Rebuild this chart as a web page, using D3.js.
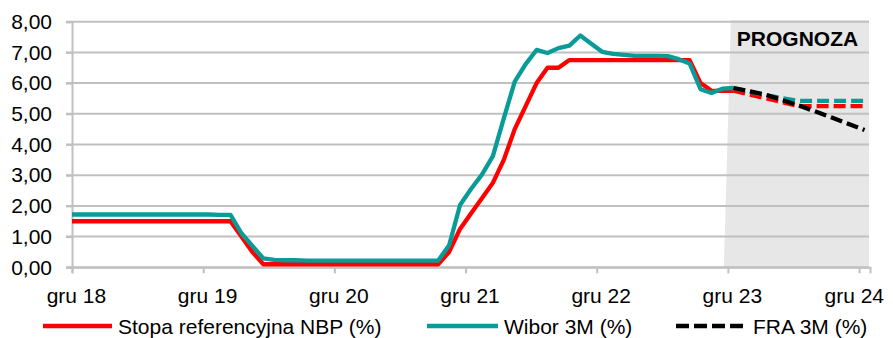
<!DOCTYPE html>
<html>
<head>
<meta charset="utf-8">
<script src="https://cdn.jsdelivr.net/npm/d3@7"></script>
<style>
  html, body { margin: 0; padding: 0; background: #fff; }
  svg { display: block; font-family: "Liberation Sans", Arial, sans-serif; }
</style>
</head>
<body>
<svg id="chart" width="893" height="338"></svg>
<script>
// ---------- DATA ----------
// Historical monthly data (end of month), Nov 2018 .. Dec 2023
const histMonths = [
  "2018-11","2018-12",
  "2019-01","2019-02","2019-03","2019-04","2019-05","2019-06","2019-07","2019-08","2019-09","2019-10","2019-11","2019-12",
  "2020-01","2020-02","2020-03","2020-04","2020-05","2020-06","2020-07","2020-08","2020-09","2020-10","2020-11","2020-12",
  "2021-01","2021-02","2021-03","2021-04","2021-05","2021-06","2021-07","2021-08","2021-09","2021-10","2021-11","2021-12",
  "2022-01","2022-02","2022-03","2022-04","2022-05","2022-06","2022-07","2022-08","2022-09","2022-10","2022-11","2022-12",
  "2023-01","2023-02","2023-03","2023-04","2023-05","2023-06","2023-07","2023-08","2023-09","2023-10","2023-11","2023-12"
];
const nbpRate = [
  1.50,1.50,
  1.50,1.50,1.50,1.50,1.50,1.50,1.50,1.50,1.50,1.50,1.50,1.50,
  1.50,1.50,1.00,0.50,0.10,0.10,0.10,0.10,0.10,0.10,0.10,0.10,
  0.10,0.10,0.10,0.10,0.10,0.10,0.10,0.10,0.10,0.50,1.25,1.75,
  2.25,2.75,3.50,4.50,5.25,6.00,6.50,6.50,6.75,6.75,6.75,6.75,
  6.75,6.75,6.75,6.75,6.75,6.75,6.75,6.75,6.00,5.75,5.75,5.75
];
const wibor3m = [
  1.72,1.72,
  1.72,1.72,1.72,1.72,1.72,1.72,1.72,1.72,1.72,1.72,1.72,1.72,
  1.71,1.71,1.11,0.70,0.29,0.24,0.23,0.23,0.22,0.22,0.22,0.22,
  0.22,0.22,0.22,0.22,0.22,0.22,0.22,0.22,0.22,0.72,2.03,2.55,
  3.02,3.62,4.85,6.05,6.62,7.08,6.98,7.14,7.22,7.55,7.28,7.02,
  6.95,6.92,6.89,6.89,6.89,6.88,6.78,6.64,5.80,5.68,5.82,5.84
];
// Forecast (quarterly), Dec 2023 .. Dec 2024
const fcMonths = ["2023-12","2024-03","2024-06","2024-09","2024-12"];
const nbpForecast   = [5.75, 5.50, 5.25, 5.25, 5.25];
const wiborForecast = [5.84, 5.60, 5.42, 5.42, 5.42];
const fra3m         = [5.84, 5.62, 5.27, 4.88, 4.47];

const xTickMonths = ["2018-12","2019-12","2020-12","2021-12","2022-12","2023-12","2024-12"];
const xTickLabels = ["gru 18","gru 19","gru 20","gru 21","gru 22","gru 23","gru 24"];
const yTicks = [0,1,2,3,4,5,6,7,8];
const forecastStart = "2023-12";
const forecastLabel = "PROGNOZA";
const legendLabels = ["Stopa referencyjna NBP (%)", "Wibor 3M (%)", "FRA 3M (%)"];

// ---------- LAYOUT ----------
const L = 72, R = 870, T = 21.7, B = 267.3;
const colRed = "#ff0000", colTeal = "#089b98", colBlack = "#000000", colGrid = "#c0c0c0";
const FS = 21;

const mIdx = s => { const [y, m] = s.split("-").map(Number); return (y - 2018) * 12 + (m - 12); };

const x = d3.scaleLinear().domain([0, 73]).range([L, R]);
const y = d3.scaleLinear().domain([0, 8]).range([B, T]);
const xc = s => x(mIdx(s) + 0.5);

const svg = d3.select("#chart");

svg.append("defs").append("clipPath").attr("id", "plotclip")
  .append("rect").attr("x", L).attr("y", 0).attr("width", R - L).attr("height", 338);

// forecast shaded region
const fx = x(mIdx(forecastStart));
svg.append("path")
  .attr("d", `M${fx + 3},${T - 1.5} L${R - 1},${T - 1.5} L${R - 1},${B} L${fx - 4},${B} Z`)
  .attr("fill", "#e7e7e7");

// gridlines
svg.append("g").selectAll("line").data(yTicks).join("line")
  .attr("x1", L - 6).attr("x2", R - 1)
  .attr("y1", d => y(d)).attr("y2", d => y(d))
  .attr("stroke", colGrid).attr("stroke-width", 2);

// y axis
const fmt = d => d3.format(".2f")(d).replace(".", ",");
const yAxis = svg.append("g").attr("transform", `translate(${L},0)`)
  .call(d3.axisLeft(y).tickValues(yTicks).tickSize(6).tickPadding(14).tickFormat(fmt));
yAxis.select(".domain").attr("stroke", colGrid).attr("stroke-width", 2);
yAxis.selectAll(".tick line").attr("stroke", colGrid).attr("stroke-width", 2);
yAxis.selectAll(".tick text").attr("font-size", FS).attr("fill", "#000")
  .attr("font-family", "Liberation Sans, Arial, sans-serif");

// x axis
const xAxis = svg.append("g").attr("transform", `translate(0,${B})`)
  .call(d3.axisBottom(x).tickValues(xTickMonths.map(mIdx)).tickSize(6).tickFormat(""));
xAxis.select(".domain").attr("stroke", colGrid).attr("stroke-width", 2);
xAxis.selectAll(".tick line").attr("stroke", colGrid).attr("stroke-width", 2);

svg.append("g").selectAll("text").data(xTickMonths).join("text")
  .attr("x", (d, i) => i === xTickMonths.length - 1 ? 884 : x(mIdx(d) + 0.5) - 1)
  .attr("y", 303)
  .attr("text-anchor", (d, i) => i === xTickMonths.length - 1 ? "end" : "middle")
  .attr("font-size", FS).attr("fill", "#000")
  .text((d, i) => xTickLabels[i]);

// PROGNOZA label
svg.append("text").attr("x", 797.5).attr("y", 46).attr("text-anchor", "middle")
  .attr("font-size", FS).attr("font-weight", "bold").attr("fill", "#000")
  .text(forecastLabel);

// lines
const line = d3.line().x(d => xc(d[0])).y(d => y(d[1]));
const plot = svg.append("g").attr("clip-path", "url(#plotclip)");
const zip = (a, b) => a.map((d, i) => [d, b[i]]);

plot.append("path").datum(zip(histMonths, nbpRate)).attr("d", line)
  .attr("fill", "none").attr("stroke", colRed).attr("stroke-width", 4.3).attr("stroke-linejoin", "round");
plot.append("path").datum(zip(histMonths, wibor3m)).attr("d", line)
  .attr("fill", "none").attr("stroke", colTeal).attr("stroke-width", 4.3).attr("stroke-linejoin", "round");

plot.append("path").datum(zip(fcMonths, nbpForecast)).attr("d", line)
  .attr("fill", "none").attr("stroke", colRed).attr("stroke-width", 4.3).attr("stroke-dasharray", "12,5");
plot.append("path").datum(zip(fcMonths, wiborForecast)).attr("d", line)
  .attr("fill", "none").attr("stroke", colTeal).attr("stroke-width", 4.3).attr("stroke-dasharray", "12,5");
plot.append("path").datum(zip(fcMonths, fra3m)).attr("d", line)
  .attr("fill", "none").attr("stroke", colBlack).attr("stroke-width", 4.3).attr("stroke-dasharray", "12,5");

// legend
const legend = [
  { label: legendLabels[0], color: colRed, dash: null, x1: 43, x2: 112, tx: 118 },
  { label: legendLabels[1], color: colTeal, dash: null, x1: 427, x2: 498, tx: 504 },
  { label: legendLabels[2], color: colBlack, dash: "13,5", x1: 676, x2: 743, tx: 753 }
];
const lg = svg.append("g");
legend.forEach(d => {
  lg.append("line").attr("x1", d.x1).attr("x2", d.x2).attr("y1", 326).attr("y2", 326)
    .attr("stroke", d.color).attr("stroke-width", 4.3)
    .attr("stroke-dasharray", d.dash);
  lg.append("text").attr("x", d.tx).attr("y", 333.5).attr("font-size", FS).attr("fill", "#000")
    .text(d.label);
});
</script>
</body>
</html>
